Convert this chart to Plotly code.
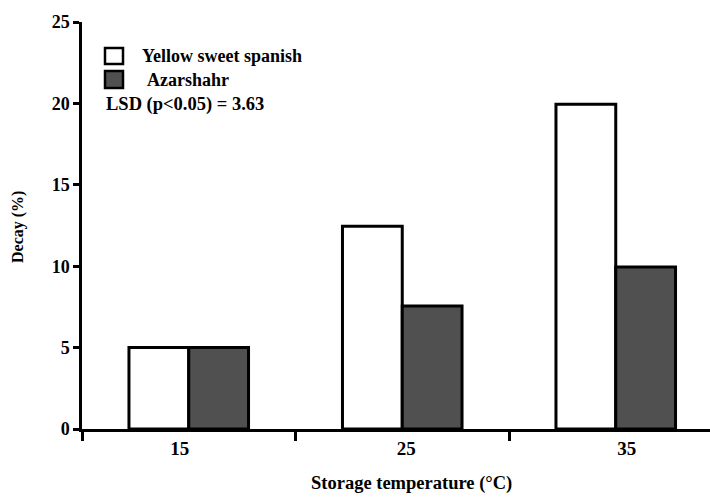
import plotly.graph_objects as go

categories = ["15", "25", "35"]
yellow_sweet_spanish = [5.0, 12.45, 19.95]
azarshahr = [5.0, 7.55, 9.95]
y_ticks = [0, 5, 10, 15, 20, 25]

W, H = 710, 497
L, R, T, B = 82, 0, 22, 68

def xp(px):
    return (px - L) / (W - L - R)

def yp(py):
    return (H - B - py) / (H - T - B)

FONT = "Times New Roman, Liberation Serif, DejaVu Serif, serif"
BOLD = "bold"
xpos = list(range(len(categories)))
PX_PER_GROUP = 213.5
# tick labels are slightly offset from bar-group centres in the original
label_pos = [x + d / PX_PER_GROUP for x, d in zip(xpos, [-9, 4, 11])]

fig = go.Figure()
fig.add_trace(go.Bar(x=xpos, y=yellow_sweet_spanish, name="Yellow sweet spanish",
                     marker=dict(color="white", line=dict(color="black", width=3))))
fig.add_trace(go.Bar(x=xpos, y=azarshahr, name="Azarshahr",
                     marker=dict(color="#505050", line=dict(color="black", width=3))))

fig.update_layout(
    width=W, height=H,
    margin=dict(l=L, r=R, t=T, b=B, pad=0),
    plot_bgcolor="white", paper_bgcolor="white",
    barmode="group", bargap=0.44, bargroupgap=0,
    showlegend=False,
    font=dict(family=FONT, color="black"),
)
fig.update_xaxes(
    range=[-0.5, -0.5 + (W - L - R) / PX_PER_GROUP],
    tickvals=label_pos, ticktext=categories, ticks="",
    tickfont=dict(size=19, family=FONT, color="black", weight=BOLD),
    showline=True, linecolor="black", linewidth=2.5,
    showgrid=False, zeroline=False,
    minor=dict(tickvals=[-0.5, 0.5, 1.5, 2.5], ticks="outside", ticklen=9,
               tickwidth=2.5, tickcolor="black", showgrid=False),
)
fig.update_yaxes(
    range=[0, 25], tickvals=y_ticks,
    ticks="outside", ticklen=6, tickwidth=2.5, tickcolor="black",
    tickfont=dict(size=18, family=FONT, color="black", weight=BOLD),
    showline=True, linecolor="black", linewidth=2.5,
    showgrid=False, zeroline=False,
)

# axis titles
fig.add_annotation(xref="paper", yref="paper", x=xp(411), y=yp(496),
                   text="Storage temperature (°C)", showarrow=False,
                   xanchor="center", yanchor="bottom",
                   font=dict(size=18.5, family=FONT, color="black", weight=BOLD))
fig.add_annotation(xref="paper", yref="paper", x=xp(18), y=yp(227),
                   text="Decay (%)", showarrow=False, textangle=-90,
                   xanchor="center", yanchor="middle",
                   font=dict(size=16, family=FONT, color="black", weight=BOLD))

# legend drawn manually
fig.add_shape(type="rect", xref="paper", yref="paper",
              x0=xp(105), x1=xp(123), y0=yp(64), y1=yp(48),
              fillcolor="white", line=dict(color="black", width=2.5))
fig.add_shape(type="rect", xref="paper", yref="paper",
              x0=xp(105), x1=xp(123), y0=yp(88), y1=yp(71),
              fillcolor="#505050", line=dict(color="black", width=2.5))
fig.add_annotation(xref="paper", yref="paper", x=xp(140), y=yp(56), text="Yellow sweet spanish",
                   showarrow=False, xanchor="left", yanchor="middle",
                   font=dict(size=18, family=FONT, color="black", weight=BOLD))
fig.add_annotation(xref="paper", yref="paper", x=xp(145), y=yp(80), text="Azarshahr",
                   showarrow=False, xanchor="left", yanchor="middle",
                   font=dict(size=18, family=FONT, color="black", weight=BOLD))
fig.add_annotation(xref="paper", yref="paper", x=xp(104), y=yp(104), text="LSD (p<0.05) = 3.63",
                   showarrow=False, xanchor="left", yanchor="middle",
                   font=dict(size=18.5, family=FONT, color="black", weight=BOLD))

fig.write_html("out.html")
